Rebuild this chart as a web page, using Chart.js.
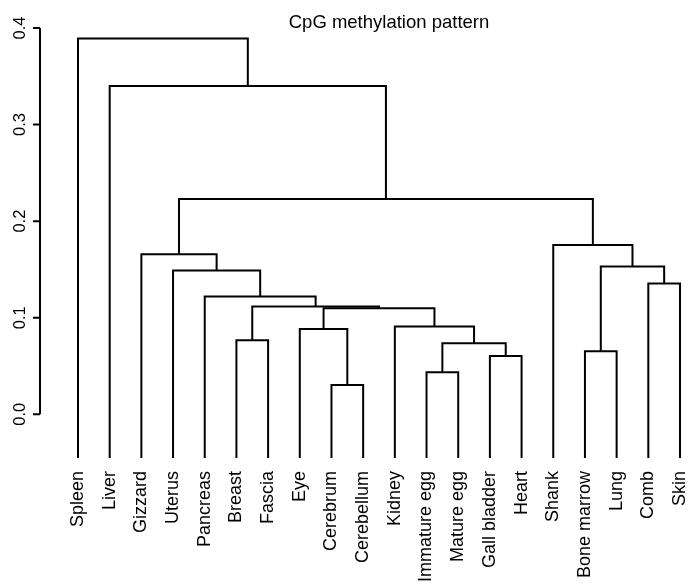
<!DOCTYPE html>
<html>
<head>
<meta charset="utf-8">
<script src="https://cdn.jsdelivr.net/npm/chart.js@4/dist/chart.umd.min.js"></script>
<style>
  html, body { margin: 0; padding: 0; background: #fff; }
  #wrap { width: 688px; height: 583px; position: relative; }
</style>
</head>
<body>
<div id="wrap"><canvas id="dendro"></canvas></div>
<script>
// leaves in plotting order
const leaves = ['Spleen', 'Liver', 'Gizzard', 'Uterus', 'Pancreas', 'Breast', 'Fascia', 'Eye',
  'Cerebrum', 'Cerebellum', 'Kidney', 'Immature egg', 'Mature egg', 'Gall bladder', 'Heart',
  'Shank', 'Bone marrow', 'Lung', 'Comb', 'Skin'];

// merge steps, R hclust style: negative = leaf (1-based), positive = earlier merge
const mergeLeft  = [-9, -12, -14, -17, 2, -6, -8, -11, 7, 6, -5, -19, -4, 4, -3, -16, 15, -2, -1];
const mergeRight = [-10, -13, -15, -18, 3, -7, 1, 5, 8, 9, 10, -20, 11, 12, 13, 14, 16, 17, 18];
const mergeHeight = [0.0304, 0.0435, 0.0604, 0.0653, 0.0736, 0.0767, 0.0884, 0.0908, 0.1098,
  0.1115, 0.1219, 0.1353, 0.1488, 0.153, 0.1658, 0.1754, 0.2228, 0.340, 0.389];

const yTicks = [0, 0.1, 0.2, 0.3, 0.4];
const leafBase = -0.0453;
const title = 'CpG methylation pattern';

// work out node positions and build one polyline per merge
const nodeX = [], nodeY = [];
function pos(ref) {
  if (ref < 0) return { x: -ref, y: leafBase };
  return { x: nodeX[ref - 1], y: nodeY[ref - 1] };
}
const datasets = [];
for (let i = 0; i < mergeHeight.length; i++) {
  const a = pos(mergeLeft[i]);
  const b = pos(mergeRight[i]);
  const h = mergeHeight[i];
  nodeX.push((a.x + b.x) / 2);
  nodeY.push(h);
  datasets.push({
    data: [{ x: a.x, y: a.y }, { x: a.x, y: h }, { x: b.x, y: h }, { x: b.x, y: b.y }],
    borderColor: '#000',
    borderWidth: 2,
    pointRadius: 0,
    fill: false,
    tension: 0
  });
}

const rAxis = {
  id: 'rAxis',
  afterDraw(chart) {
    const ctx = chart.ctx;
    const y = chart.scales.y;
    const ax = 40;
    ctx.save();
    ctx.strokeStyle = '#000';
    ctx.lineWidth = 2;
    ctx.beginPath();
    ctx.moveTo(ax, y.getPixelForValue(yTicks[0]));
    ctx.lineTo(ax, y.getPixelForValue(yTicks[yTicks.length - 1]));
    yTicks.forEach(t => {
      const py = y.getPixelForValue(t);
      ctx.moveTo(ax - 7, py);
      ctx.lineTo(ax, py);
    });
    ctx.stroke();
    ctx.fillStyle = '#000';
    ctx.font = '16.5px "Liberation Sans", Arial, sans-serif';
    ctx.textAlign = 'center';
    ctx.textBaseline = 'alphabetic';
    yTicks.forEach(t => {
      ctx.save();
      ctx.translate(25, y.getPixelForValue(t));
      ctx.rotate(-Math.PI / 2);
      ctx.fillText(t.toFixed(1), 0, 0);
      ctx.restore();
    });
    ctx.font = '18.5px "Liberation Sans", Arial, sans-serif';
    ctx.fillText(title, 389, 28.3);
    ctx.restore();
  }
};

try {
  new Chart(document.getElementById('dendro').getContext('2d'), {
    type: 'line',
    data: { datasets },
    options: {
      responsive: true,
      maintainAspectRatio: false,
      animation: false,
      layout: { padding: { left: 40, top: 28, right: 0, bottom: 0 } },
      plugins: { legend: { display: false }, tooltip: { enabled: false }, title: { display: false } },
      scales: {
        x: {
          type: 'linear',
          min: -0.1995,
          max: 20.2525,
          grid: { display: false },
          border: { display: false },
          afterBuildTicks: scale => { scale.ticks = leaves.map((_, i) => ({ value: i + 1 })); },
          afterFit: scale => {
            scale.height = 125;
            scale.paddingLeft = 0;
            scale.paddingRight = 0;
          },
          ticks: {
            autoSkip: false,
            minRotation: 90,
            maxRotation: 90,
            padding: 5,
            color: '#000',
            font: { family: '"Liberation Sans", Arial, sans-serif', size: 18 },
            callback: v => leaves[v - 1]
          }
        },
        y: {
          type: 'linear',
          display: false,
          min: leafBase,
          max: 0.4
        }
      }
    },
    plugins: [rAxis]
  });
} catch (error) {
  console.error('Chart.js Error: ', error);
}
</script>
</body>
</html>
